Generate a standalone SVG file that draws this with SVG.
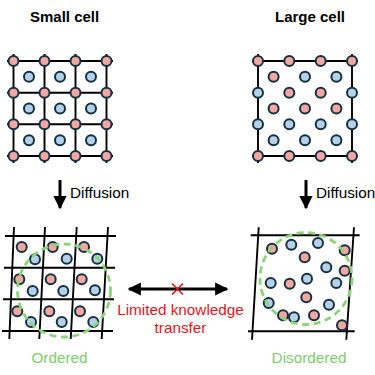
<svg xmlns="http://www.w3.org/2000/svg" width="375" height="375" viewBox="0 0 375 375">
<defs>
<style>
.ln{stroke:#000;stroke-width:1.9;fill:none}
.p{fill:#f4a6a2;stroke:#14303f;stroke-width:2}
.b{fill:#b5d1e9;stroke:#14303f;stroke-width:2}
.gd{fill:none;stroke:#8cd47a;stroke-width:2.8;stroke-dasharray:7,4.5}
.t{font-family:"Liberation Sans",Arial,sans-serif;font-size:15.3px}
.tb{font-family:"Liberation Sans",Arial,sans-serif;font-size:15px;font-weight:bold}
</style>
<marker id="ah" viewBox="0 0 10 10" refX="9" refY="5" markerWidth="4.4" markerHeight="4.4" orient="auto-start-reverse" markerUnits="strokeWidth">
<path d="M0,0 L10,5 L0,10 Z" fill="#000"/>
</marker>
</defs>
<rect width="375" height="375" fill="#fff"/>

<text class="tb" x="30" y="22">Small cell</text>
<text class="tb" x="275" y="22">Large cell</text>

<g id="small-cell">
<path class="ln" d="M7,61H113M7,92.7H113M7,124.3H113M7,156H113M13.5,54V163M44.5,54V163M75.5,54V163M106.5,54V163"/>
<g>
<circle class="b" cx="29" cy="76.8" r="5"/><circle class="b" cx="60" cy="76.8" r="5"/><circle class="b" cx="91" cy="76.8" r="5"/>
<circle class="b" cx="29" cy="108.5" r="5"/><circle class="b" cx="60" cy="108.5" r="5"/><circle class="b" cx="91" cy="108.5" r="5"/>
<circle class="b" cx="29" cy="140.2" r="5"/><circle class="b" cx="60" cy="140.2" r="5"/><circle class="b" cx="91" cy="140.2" r="5"/>
<circle class="p" cx="13.5" cy="61" r="5"/><circle class="p" cx="44.5" cy="61" r="5"/><circle class="p" cx="75.5" cy="61" r="5"/><circle class="p" cx="106.5" cy="61" r="5"/>
<circle class="p" cx="13.5" cy="92.7" r="5"/><circle class="p" cx="44.5" cy="92.7" r="5"/><circle class="p" cx="75.5" cy="92.7" r="5"/><circle class="p" cx="106.5" cy="92.7" r="5"/>
<circle class="p" cx="13.5" cy="124.3" r="5"/><circle class="p" cx="44.5" cy="124.3" r="5"/><circle class="p" cx="75.5" cy="124.3" r="5"/><circle class="p" cx="106.5" cy="124.3" r="5"/>
<circle class="p" cx="13.5" cy="156" r="5"/><circle class="p" cx="44.5" cy="156" r="5"/><circle class="p" cx="75.5" cy="156" r="5"/><circle class="p" cx="106.5" cy="156" r="5"/>
</g>
</g>

<g id="large-cell">
<path class="ln" d="M252,61H358M252,156H358M258,54V163M352,54V163"/>
<circle class="p" cx="258" cy="61" r="5"/><circle class="p" cx="289.3" cy="61" r="5"/><circle class="p" cx="320.7" cy="61" r="5"/><circle class="p" cx="352" cy="61" r="5"/>
<circle class="p" cx="273.6" cy="76.8" r="5"/><circle class="b" cx="305" cy="76.8" r="5"/><circle class="b" cx="336.4" cy="76.8" r="5"/>
<circle class="b" cx="258" cy="92.7" r="5"/><circle class="p" cx="289.3" cy="92.7" r="5"/><circle class="p" cx="320.7" cy="92.7" r="5"/><circle class="b" cx="352" cy="92.7" r="5"/>
<circle class="p" cx="273.6" cy="108.5" r="5"/><circle class="p" cx="305" cy="108.5" r="5"/><circle class="p" cx="336.4" cy="108.5" r="5"/>
<circle class="b" cx="258" cy="124.3" r="5"/><circle class="b" cx="289.3" cy="124.3" r="5"/><circle class="b" cx="320.7" cy="124.3" r="5"/><circle class="b" cx="352" cy="124.3" r="5"/>
<circle class="b" cx="273.6" cy="140.2" r="5"/><circle class="b" cx="305" cy="140.2" r="5"/><circle class="b" cx="336.4" cy="140.2" r="5"/>
<circle class="p" cx="258" cy="156" r="5"/><circle class="p" cx="289.3" cy="156" r="5"/><circle class="p" cx="320.7" cy="156" r="5"/><circle class="p" cx="352" cy="156" r="5"/>
</g>

<g id="small-ordered">
<path class="ln" d="M5,236H116M4,267.7H115M3,299.3H114M2,331H113M14,227L9.3,339M45,227L39.3,339M76.7,227L70.7,339M108,227L101.7,339"/>
<circle class="p" cx="21.7" cy="247" r="5"/><circle class="b" cx="35" cy="259.3" r="5"/>
<circle class="p" cx="52.7" cy="247" r="5"/><circle class="b" cx="66.7" cy="258.7" r="5"/>
<circle class="p" cx="84" cy="247" r="5"/><circle class="b" cx="97.3" cy="258.7" r="5"/>
<circle class="p" cx="19.3" cy="279.3" r="5"/><circle class="b" cx="32.7" cy="291" r="5"/>
<circle class="p" cx="50.7" cy="279.3" r="5"/><circle class="b" cx="63.3" cy="291" r="5"/>
<circle class="p" cx="81.7" cy="279.3" r="5"/><circle class="b" cx="95" cy="290.3" r="5"/>
<circle class="p" cx="17.3" cy="311.3" r="5"/><circle class="b" cx="31" cy="322" r="5"/>
<circle class="p" cx="49.3" cy="311.3" r="5"/><circle class="b" cx="61.7" cy="322" r="5"/>
<circle class="p" cx="80" cy="311.3" r="5"/><circle class="b" cx="93.3" cy="322" r="5"/>
<circle class="gd" cx="64" cy="290.5" r="46.5"/>
</g>

<g id="large-disordered">
<path class="ln" d="M250.7,235.3H359.7M248,331.3H354.7M258.7,227.3L252,339.7M354,227.3L346.3,339.7"/>
<circle class="p" cx="272" cy="248.7" r="5"/>
<circle class="b" cx="291.3" cy="244.7" r="5"/>
<circle class="b" cx="318" cy="243" r="5"/>
<circle class="p" cx="344.7" cy="250.3" r="5"/>
<circle class="p" cx="304.7" cy="257.3" r="5"/>
<circle class="b" cx="326.3" cy="267.3" r="5"/>
<circle class="p" cx="344.7" cy="270.7" r="5"/>
<circle class="b" cx="270.7" cy="283" r="5"/>
<circle class="p" cx="289.7" cy="283.7" r="5"/>
<circle class="b" cx="307" cy="278.7" r="5"/>
<circle class="b" cx="336.3" cy="283" r="5"/>
<circle class="p" cx="306.3" cy="297.3" r="5"/>
<circle class="b" cx="268.7" cy="303" r="5"/>
<circle class="b" cx="329" cy="304.7" r="5"/>
<circle class="p" cx="283" cy="315.3" r="5"/>
<circle class="b" cx="294" cy="317.3" r="5"/>
<circle class="p" cx="314" cy="315.3" r="5"/>
<circle class="p" cx="342" cy="325.3" r="5"/>
<circle class="gd" cx="306" cy="278.5" r="46"/>
</g>

<g id="connectors">
<line x1="60" y1="180" x2="60" y2="208" stroke="#000" stroke-width="3" marker-end="url(#ah)"/>
<line x1="306" y1="180" x2="306" y2="208" stroke="#000" stroke-width="3" marker-end="url(#ah)"/>
<line x1="129" y1="289" x2="227" y2="289" stroke="#000" stroke-width="3" marker-start="url(#ah)" marker-end="url(#ah)"/>
<path d="M172,283.5L183,294.5M183,283.5L172,294.5" stroke="#e3151d" stroke-width="1.7" fill="none"/>
</g>

<text class="t" x="70" y="198">Diffusion</text>
<text class="t" x="316" y="198">Diffusion</text>
<text class="t" x="180.5" y="315" text-anchor="middle" fill="#e3151d">Limited knowledge</text>
<text class="t" x="180.5" y="333" text-anchor="middle" fill="#e3151d">transfer</text>
<text class="t" x="59.5" y="363" text-anchor="middle" fill="#7fcd6e">Ordered</text>
<text class="t" x="309" y="363" text-anchor="middle" fill="#7fcd6e">Disordered</text>
</svg>
